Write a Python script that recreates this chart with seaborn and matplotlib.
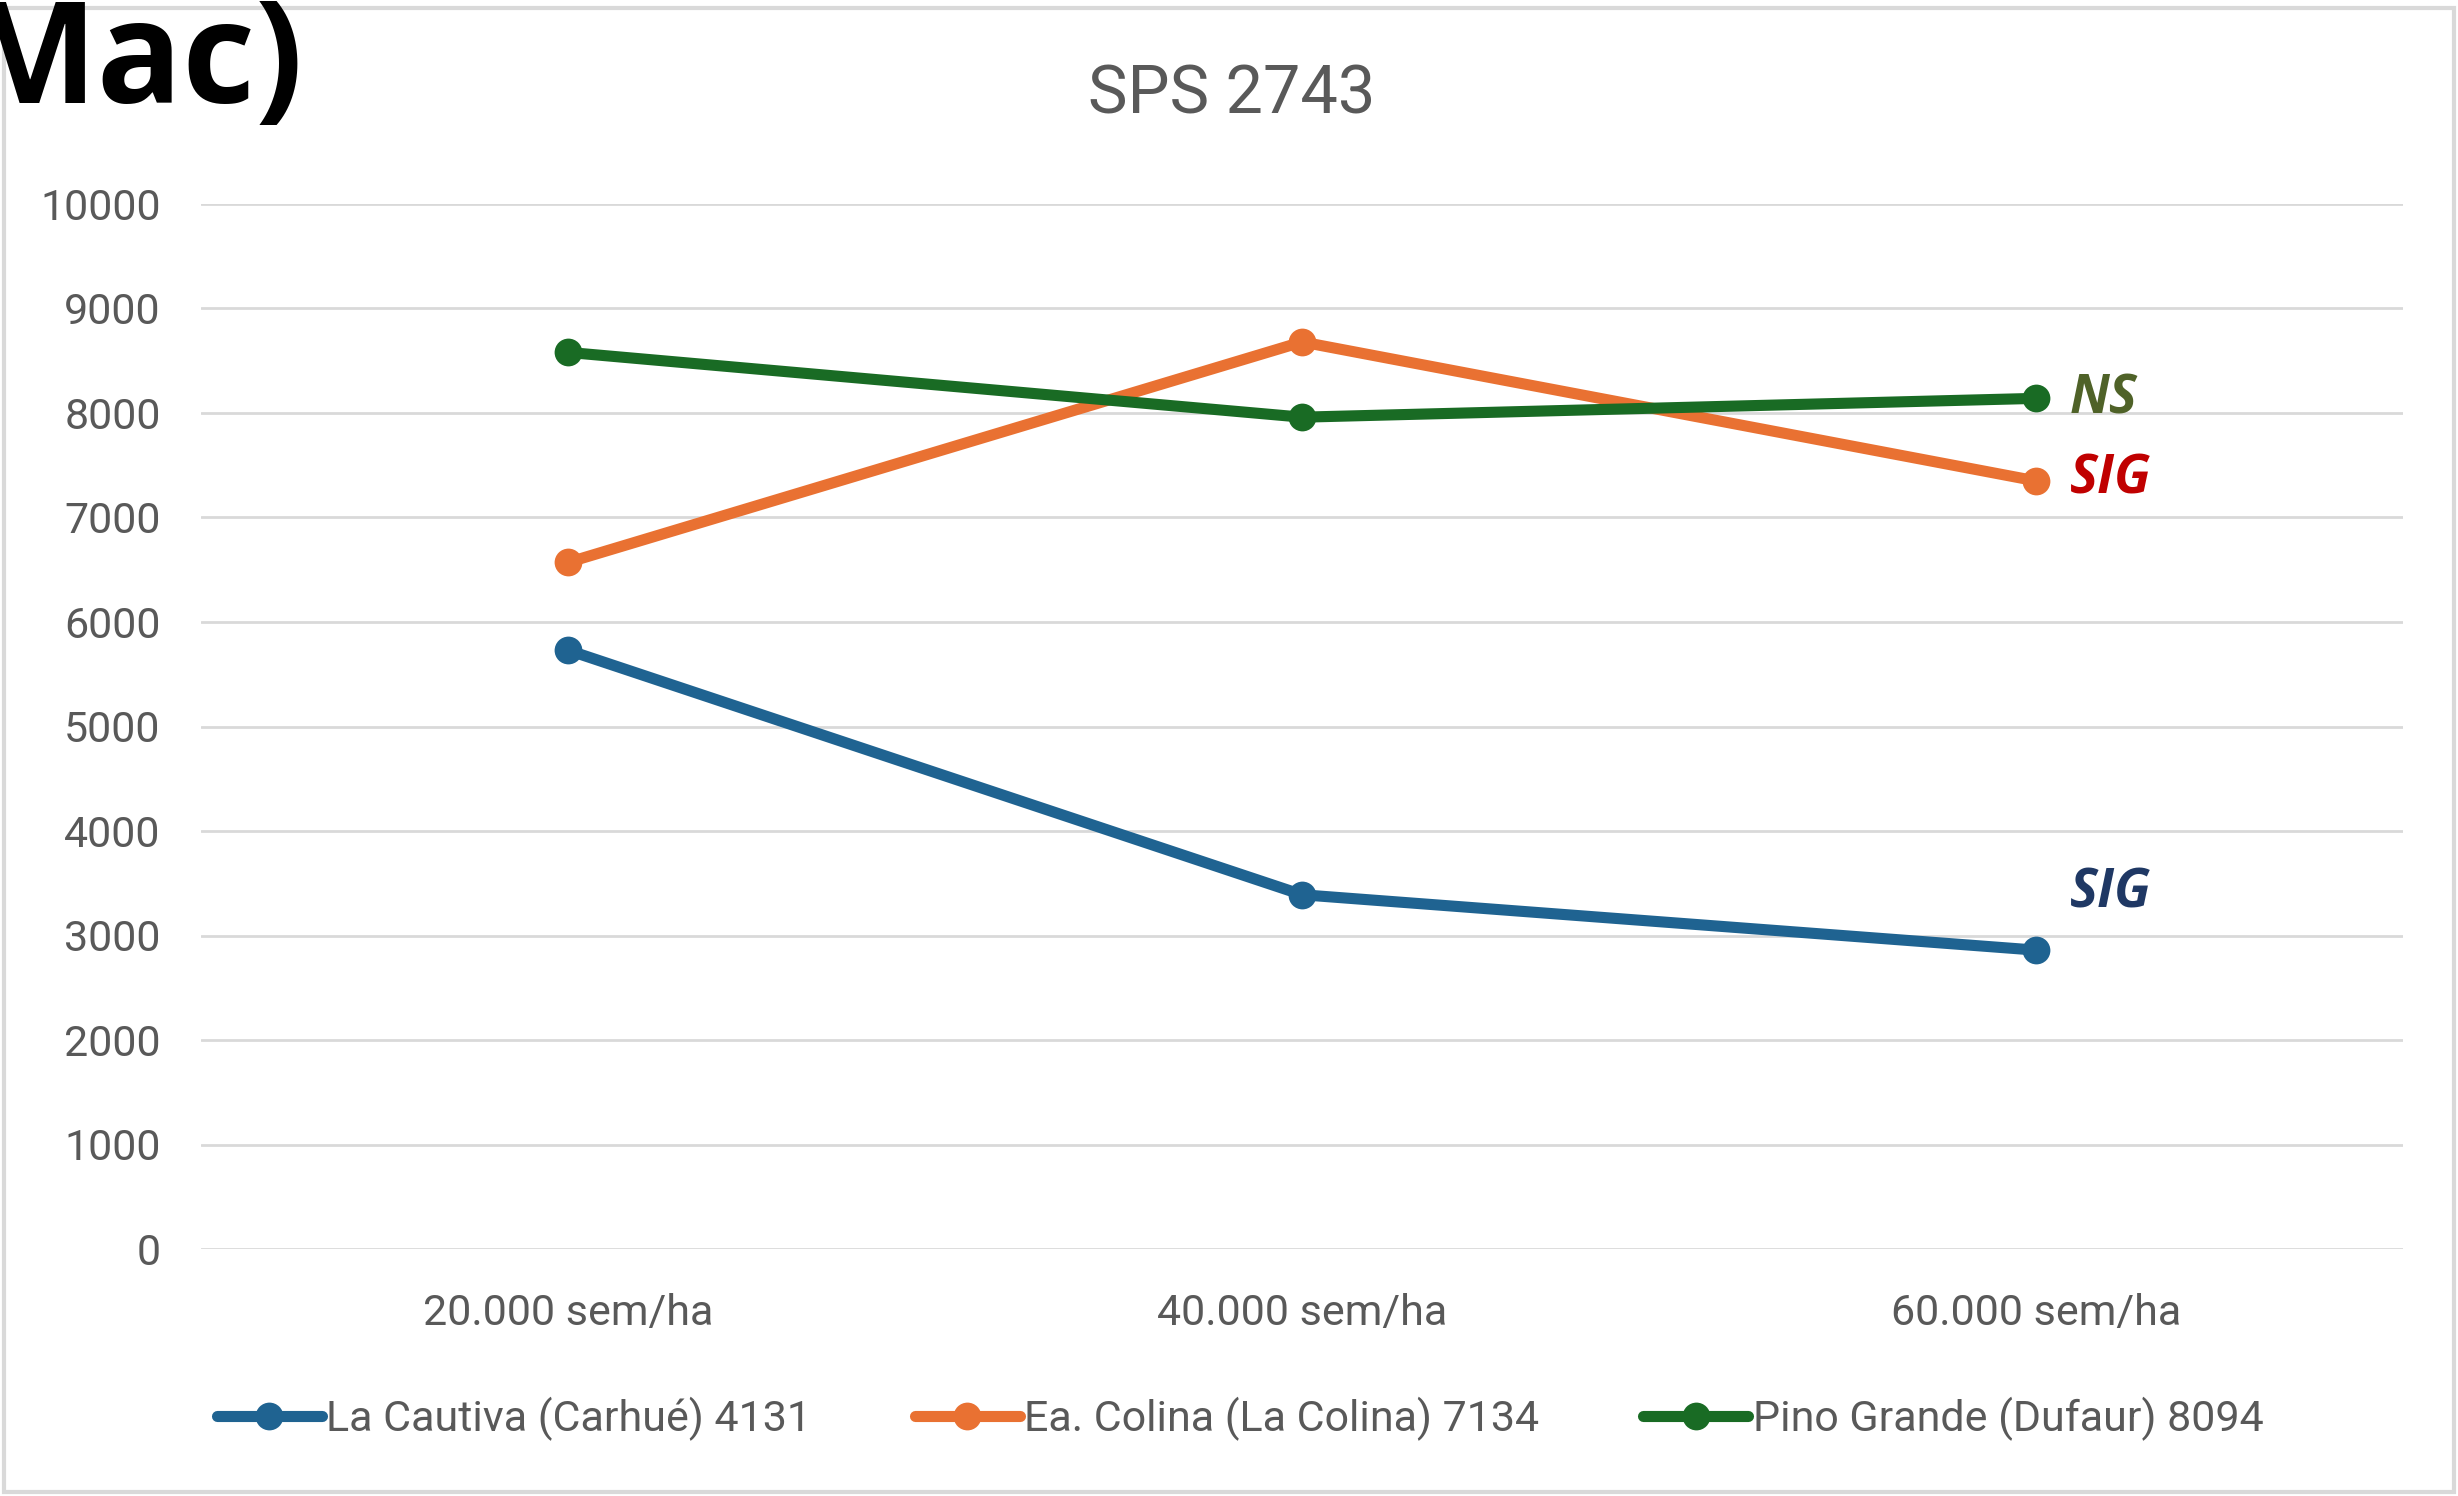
import matplotlib
matplotlib.use("Agg")
import matplotlib.pyplot as plt
import seaborn as sns
import pandas as pd
from matplotlib.patches import Rectangle
from matplotlib.lines import Line2D

categories = ["20.000 sem/ha", "40.000 sem/ha", "60.000 sem/ha"]
series_names = ["La Cautiva (Carhué) 4131", "Ea. Colina (La Colina) 7134", "Pino Grande (Dufaur) 8094"]
la_cautiva = [5730, 3390, 2860]
ea_colina = [6570, 8680, 7350]
pino_grande = [8580, 7960, 8140]
colors = ["#1F6391", "#E97132", "#196B24"]
annot_texts = ["NS", "SIG", "SIG"]
annot_y = [8130, 7360, 3400]
annot_colors = ["#4F6228", "#C00000", "#1F3864"]
y_ticks = [0, 1000, 2000, 3000, 4000, 5000, 6000, 7000, 8000, 9000, 10000]

rows = []
for name, vals in zip(series_names, [la_cautiva, ea_colina, pino_grande]):
    for i, v in enumerate(vals):
        rows.append({"pos": i, "cat": categories[i], "serie": name, "valor": v})
df = pd.DataFrame(rows)

sns.set_theme(style="white")
plt.rcParams['font.family'] = ['Roboto', 'DejaVu Sans']

W, H = 2458, 1496
fig = plt.figure(figsize=(W / 100, H / 100), dpi=100)
ax = fig.add_axes([201 / W, 1 - 1249 / H, (2403 - 201) / W, (1249 - 204) / H])

LW, MS = 8.0, 20
sns.lineplot(data=df, x="pos", y="valor", hue="serie", hue_order=series_names,
             palette=colors, marker="o", markersize=MS, markeredgewidth=0,
             linewidth=LW, ax=ax, legend=False, sort=False)

ax.set_xlim(-0.5, 2.5)
ax.set_ylim(0, 10000)
ax.set_yticks(y_ticks)
ax.set_yticklabels([str(t) for t in y_ticks], fontsize=31, color="#595959")
ax.set_xticks(range(len(categories)))
ax.set_xticklabels(categories, fontsize=31, color="#595959")
ax.tick_params(axis="y", length=0, pad=29)
ax.tick_params(axis="x", length=0, pad=32)
ax.set_xlabel("")
ax.set_ylabel("")
ax.grid(axis="y", color="#D9D9D9", linewidth=2.0)
ax.set_axisbelow(True)
for s in ax.spines.values():
    s.set_visible(False)

for t, yv, c in zip(annot_texts, annot_y, annot_colors):
    ax.text(2.046, yv, t, fontsize=38, fontweight="bold", fontstyle="italic",
            color=c, ha="left", va="center", family=["Open Sans", "DejaVu Sans"])

fig.text(1232 / W, 1 - 96 / H, "SPS 2743", fontsize=48, color="#595959",
         ha="center", va="center")

handles = [Line2D([0], [0], color=c, linewidth=LW, marker="o", markersize=MS,
                  markeredgewidth=0) for c in colors]
fig.legend(handles, series_names, loc="center", bbox_to_anchor=(1240 / W, 1 - 1419 / H),
           ncol=3, frameon=False, fontsize=31, labelcolor="#595959",
           handlelength=2.45, handletextpad=0.1, columnspacing=2.4)

fig.patches.append(Rectangle((4 / W, 4 / H), (W - 8) / W, (H - 12) / H, transform=fig.transFigure,
                             fill=False, edgecolor="#D9D9D9", linewidth=3, zorder=0))

fig.text(303 / W, 1 - 103 / H, "Mac)", fontsize=102, fontweight="bold", color="black",
         ha="right", va="baseline", family=["Open Sans", "DejaVu Sans"])

fig.savefig("out.png", dpi=100, facecolor="white")
